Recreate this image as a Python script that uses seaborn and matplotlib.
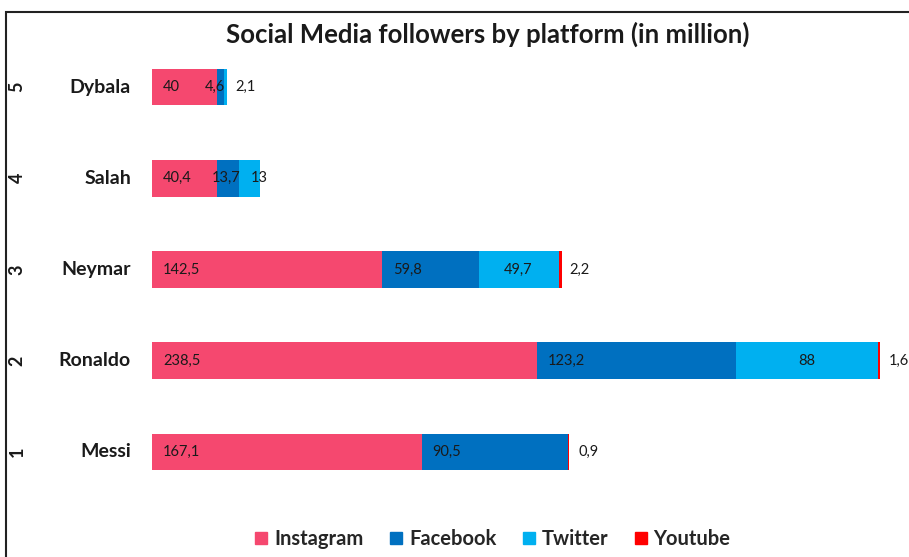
import matplotlib
matplotlib.use("Agg")
import matplotlib.pyplot as plt
from matplotlib.patches import Rectangle, Patch
import seaborn as sns
import pandas as pd
import numpy as np

# ---- data ----
players = ["Dybala", "Salah", "Neymar", "Ronaldo", "Messi"]
ranks = ["5", "4", "3", "2", "1"]
platforms = ["Instagram", "Facebook", "Twitter", "Youtube"]
instagram = [40, 40.4, 142.5, 238.5, 167.1]
facebook = [4.6, 13.7, 59.8, 123.2, 90.5]
twitter = [2.1, 13, 49.7, 88, 0]
youtube = [0, 0, 2.2, 1.6, 0.9]
colors = ["#F5486F", "#0070C0", "#00B0F0", "#FF0000"]

sns.set_theme(style="white")
plt.rcParams["font.family"] = ["Lato", "DejaVu Sans"]

W, H = 909, 557
fig = plt.figure(figsize=(W / 100, H / 100), dpi=100)
ax = fig.add_axes([152 / W, 1 - 497.6 / H, 1 - 152 / W, (497.6 - 41.4) / H])

series = [instagram, facebook, twitter, youtube]
cum = np.zeros(len(players))
cums = []
for s in series:
    cum = cum + np.array(s, dtype=float)
    cums.append(cum.copy())

# draw cumulative layers from the largest down so they stack visually
for name, c, col in reversed(list(zip(platforms, cums, colors))):
    d = pd.DataFrame({"player": players, "value": c})
    sns.barplot(data=d, x="value", y="player", order=players, color=col,
                orient="h", width=0.4, saturation=1, ax=ax, linewidth=0)

ax.set_xlim(0, (W - 152) / 1.614)
ax.set_ylim(4.5, -0.5)
ax.set_xlabel("")
ax.set_ylabel("")
ax.set_xticks([])
ax.set_yticks([])
for sp in ax.spines.values():
    sp.set_visible(False)

def fmt(v):
    return f"{v:g}".replace(".", ",")

lab_kw = dict(fontsize=10.5, color="#1a1a1a", va="center")
for i, p in enumerate(players):
    starts = [0.0] + [cums[k][i] for k in range(3)]
    for k, s in enumerate(series):
        v = s[i]
        if v == 0:
            continue
        x0 = starts[k]
        x1 = x0 + v
        if k == 1 and v < 20:
            ax.annotate(fmt(v), (x1, i), xytext=(1, 0), textcoords="offset pixels",
                        ha="right", **lab_kw)
        elif k == 2 and v >= 20:
            ax.annotate(fmt(v), ((x0 + x1) / 2, i), ha="center", **lab_kw)
        else:
            ax.annotate(fmt(v), (x0, i), xytext=(11, 0), textcoords="offset pixels",
                        ha="left", **lab_kw)

# category labels (two levels)
for i, (p, r) in enumerate(zip(players, ranks)):
    ax.annotate(p, (0, i), xycoords=("axes fraction", "data"), xytext=(-21, 0),
                textcoords="offset pixels", ha="right", va="center",
                fontsize=14, fontweight="bold", color="#1a1a1a")
    ax.annotate(r, (17 / W, i), xycoords=("figure fraction", "data"),
                ha="center", va="center", rotation=90, fontsize=13,
                fontweight="bold", color="#1a1a1a")

fig.text(488 / W, 1 - 34 / H, "Social Media followers by platform (in million)",
         ha="center", va="center", fontsize=18.5, fontweight="bold", color="#1a1a1a")

handles = [Patch(facecolor=c, edgecolor=c) for c in colors]
fig.legend(handles, platforms, loc="center", bbox_to_anchor=(493 / W, 1 - 539 / H),
           ncol=4, frameon=False, handlelength=0.6, handleheight=0.6,
           handletextpad=0.35, columnspacing=1.3,
           prop={"size": 14.5, "weight": "bold"})

fig.add_artist(Rectangle((6 / W, -0.2), 1.5, (H - 12) / H + 0.2,
                         transform=fig.transFigure, fill=False,
                         linewidth=1.5, edgecolor="#222222"))

fig.savefig("out.png", dpi=100, facecolor="white")
